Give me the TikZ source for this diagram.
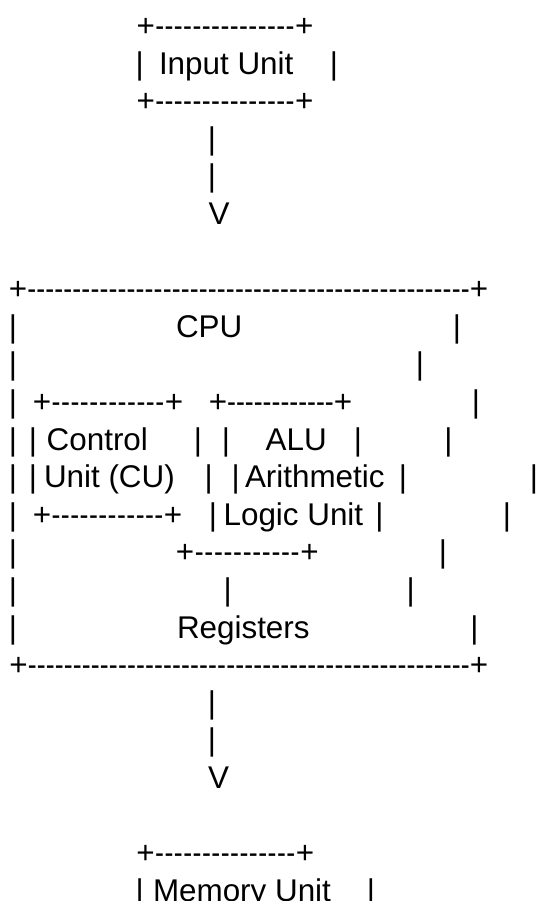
\documentclass[tikz,border=0pt]{standalone}
\usepackage{fontspec}
\setmainfont{Liberation Sans}

% Baseline of text row #1 (rows are 37.6pt apart)
\newcommand\rowy[1]{{826.8-(#1-2)*37.6}}
% A vertical bar centred on x
\newcommand\barat[3]{\node[midtok] (#1) at (#2,\rowy{#3}) {|};}
% A word whose pen starts at x
\newcommand\wordat[4]{\node[wordtok] (#1) at (#2,\rowy{#3}) {#4};}
% A centred glyph
\newcommand\glyphat[4]{\node[midtok] (#1) at (#2,\rowy{#3}) {#4};}
% A narrow hyphen, so that the rules come out dense
\newcommand\narrowdash{\hbox{\scalebox{0.85}[1]{-}}}
% A "+----+" rule whose plus signs are centred on x1 and x2
\newcommand\ruleat[4]{\node[wordtok] (#1) at ({#2-9.17},\rowy{#4})
  {\hbox to \dimexpr #3pt-#2pt+18.34pt\relax{+\xleaders\narrowdash\hfill+}};}

\begin{document}
\begin{tikzpicture}[x=1pt,y=1pt,
  tok/.style={inner sep=0pt, outer sep=0pt, text=black,
    font=\fontsize{31.4}{37.6}\selectfont},
  midtok/.style={tok, anchor=base},
  wordtok/.style={tok, anchor=base west}]
\fill[white] (0,0) rectangle (538,901);
\useasboundingbox (0,0) rectangle (538,901);

% Input unit
\ruleat{inTop}{145.7}{304.2}{1}
\barat{inL}{139.7}{2}
\wordat{inTxt}{159}{2}{Input Unit}
\barat{inR}{334}{2}
\ruleat{inBot}{145.7}{304.2}{3}
\barat{a1}{212}{4}
\barat{a2}{212}{5}
\glyphat{a3}{219}{6}{V}

% CPU block
\ruleat{cpuTop}{18}{479}{8}
\barat{c9l}{13}{9}
\wordat{cpuTxt}{176}{9}{CPU}
\barat{c9r}{457}{9}
\barat{c10l}{13}{10}
\barat{c10r}{420}{10}
\barat{c11l}{13}{11}
\ruleat{cuTop}{42}{174}{11}
\ruleat{aluTop}{218}{343}{11}
\barat{c11r}{476}{11}
\barat{c12l}{13}{12}
\barat{cu12l}{33}{12}
\wordat{cuTxtA}{46.7}{12}{Control}
\barat{cu12r}{198}{12}
\barat{alu12l}{226}{12}
\wordat{aluTxtA}{265.6}{12}{ALU}
\barat{alu12r}{358}{12}
\barat{c12r}{448.5}{12}
\barat{c13l}{13}{13}
\barat{cu13l}{33}{13}
\wordat{cuTxtB}{44}{13}{Unit (CU)}
\barat{cu13r}{208.7}{13}
\barat{alu13l}{235.6}{13}
\wordat{aluTxtB}{245}{13}{Arithmetic}
\barat{alu13r}{403}{13}
\barat{c13r}{534}{13}
\barat{c14l}{13}{14}
\ruleat{cuBot}{42}{173}{14}
\barat{alu14l}{213}{14}
\wordat{aluTxtC}{223.6}{14}{Logic Unit}
\barat{alu14r}{379.5}{14}
\barat{c14r}{507}{14}
\barat{c15l}{13}{15}
\ruleat{aluBot}{185}{309.5}{15}
\barat{c15r}{443}{15}
\barat{c16l}{13}{16}
\barat{c16m}{227.7}{16}
\barat{c16r}{410.6}{16}
\barat{c17l}{13}{17}
\wordat{regTxt}{177}{17}{Registers}
\barat{c17r}{474.4}{17}
\ruleat{cpuBot}{18.5}{479}{18}

% Memory unit
\barat{b1}{212}{19}
\barat{b2}{212}{20}
\glyphat{b3}{218.5}{21}{V}
\ruleat{memTop}{145.5}{305}{23}
\barat{memL}{139.7}{24}
\wordat{memTxt}{153}{24}{Memory Unit}
\barat{memR}{371}{24}
\end{tikzpicture}
\end{document}
